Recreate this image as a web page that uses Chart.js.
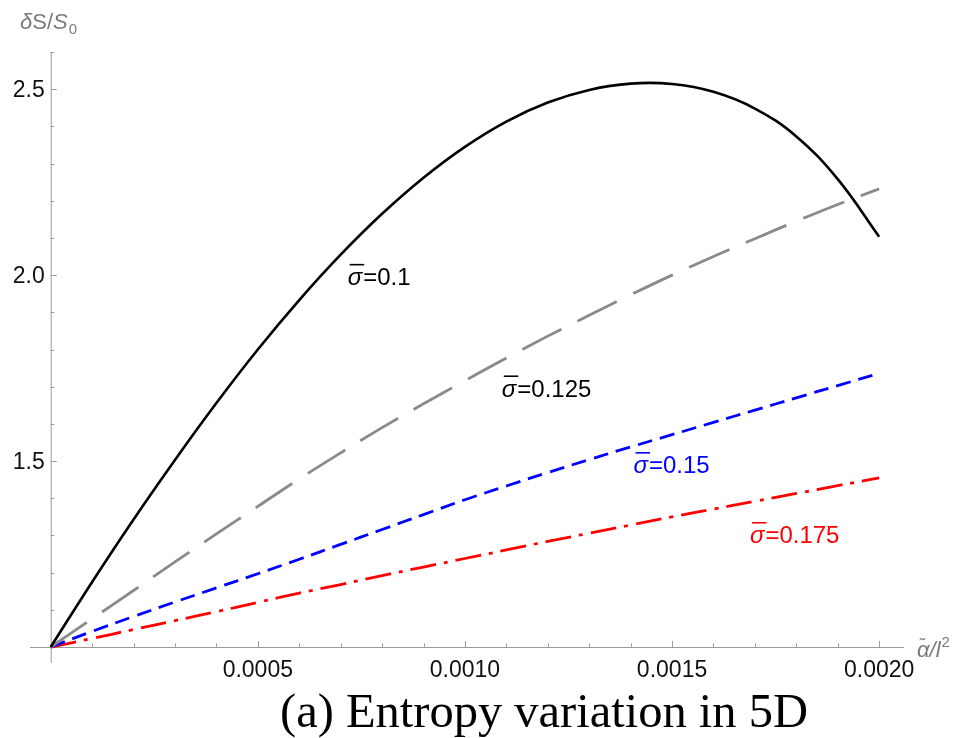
<!DOCTYPE html>
<html>
<head>
<meta charset="utf-8">
<script src="https://cdn.jsdelivr.net/npm/chart.js@4.4.1/dist/chart.umd.min.js"></script>
<style>
  html, body { margin: 0; padding: 0; background: #fff; }
  #wrap { width: 958px; height: 738px; }
</style>
</head>
<body>
<div id="wrap"><canvas id="myChart" width="958" height="738"></canvas></div>
<script>
// alpha/l^2 sample points
var alphaVals = [0, 0.0001, 0.0002, 0.0003, 0.0004, 0.0005, 0.0006, 0.0007, 0.0008, 0.0009, 0.0010,
                 0.0011, 0.0012, 0.0013, 0.0014, 0.0015, 0.0016, 0.0017, 0.0018, 0.0019, 0.0020];

// deltaS/S0 for each sigma
var sigma100 = [1.00, 1.175, 1.343, 1.503, 1.656, 1.800, 1.933, 2.055, 2.165, 2.262, 2.345,
                2.413, 2.464, 2.498, 2.515, 2.514, 2.493, 2.448, 2.373, 2.258, 2.103];
var sigma125 = [1.00, 1.076, 1.152, 1.229, 1.304, 1.378, 1.452, 1.522, 1.590, 1.654, 1.716,
                1.777, 1.836, 1.892, 1.947, 2.000, 2.050, 2.098, 2.145, 2.190, 2.232];
var sigma150 = [1.00, 1.042, 1.082, 1.121, 1.159, 1.197, 1.236, 1.276, 1.316, 1.356, 1.396,
                1.433, 1.469, 1.504, 1.538, 1.571, 1.604, 1.637, 1.670, 1.703, 1.736];
var sigma175 = [1.00, 1.023, 1.047, 1.071, 1.095, 1.120, 1.145, 1.168, 1.192, 1.215, 1.238,
                1.261, 1.284, 1.306, 1.328, 1.350, 1.371, 1.392, 1.413, 1.434, 1.455];

var sigmaNames = ['0.1', '0.125', '0.15', '0.175'];

var xTicks = [0.0005, 0.0010, 0.0015, 0.0020];
var xTickLabels = ['0.0005', '0.0010', '0.0015', '0.0020'];
var yTicks = [1.5, 2.0, 2.5];
var yTickLabels = ['1.5', '2.0', '2.5'];

function toPoints(ys) {
  return ys.map(function(y, i) { return {x: alphaVals[i], y: y}; });
}

// where the curve labels sit (data coords of the sigma glyph, baseline)
var labelSpots = [
  {x: 0.000717, y: 1.973, color: '#000000'},
  {x: 0.001089, y: 1.673, color: '#000000'},
  {x: 0.001407, y: 1.467, color: '#0000ff'},
  {x: 0.001688, y: 1.279, color: '#ff0000'}
];

var axisGray = '#9a9a9a';
var labelGray = '#7a7a7a';
var sans = '"Liberation Sans", Arial, Helvetica, sans-serif';

var axesPlugin = {
  id: 'mathAxes',
  beforeDatasetsDraw: function(chart) {
    var ctx = chart.ctx;
    var xs = chart.scales.x, ys = chart.scales.y;
    var x0 = xs.getPixelForValue(0), y0 = ys.getPixelForValue(1);
    var area = chart.chartArea;
    ctx.save();
    ctx.strokeStyle = axisGray;
    ctx.lineWidth = 1;
    ctx.beginPath();
    ctx.moveTo(area.left, y0 + 0.5); ctx.lineTo(area.right, y0 + 0.5);
    ctx.moveTo(x0 + 0.5, area.top); ctx.lineTo(x0 + 0.5, area.bottom);
    // x ticks, every 0.0001, longer at labelled ones
    for (var i = 1; i <= 20; i++) {
      var px = Math.round(xs.getPixelForValue(i * 0.0001)) + 0.5;
      var len = (i % 5 === 0) ? 6 : 3.5;
      ctx.moveTo(px, y0); ctx.lineTo(px, y0 - len);
    }
    for (var j = 1; j <= 16; j++) {
      var py = Math.round(ys.getPixelForValue(1 + j * 0.1)) + 0.5;
      var l2 = (j % 5 === 0) ? 6 : 3.5;
      ctx.moveTo(x0, py); ctx.lineTo(x0 + l2, py);
    }
    ctx.stroke();

    // tick labels
    ctx.fillStyle = '#111';
    ctx.font = '23px ' + sans;
    ctx.textAlign = 'center';
    ctx.textBaseline = 'alphabetic';
    xTicks.forEach(function(v, k) {
      ctx.fillText(xTickLabels[k], xs.getPixelForValue(v), y0 + 30);
    });
    ctx.textAlign = 'right';
    yTicks.forEach(function(v, k) {
      ctx.fillText(yTickLabels[k], x0 - 6, ys.getPixelForValue(v) + 8);
    });
    ctx.restore();
  },
  afterDraw: function(chart) {
    var ctx = chart.ctx;
    var xs = chart.scales.x, ys = chart.scales.y;
    ctx.save();
    ctx.textBaseline = 'alphabetic';
    ctx.textAlign = 'left';

    // curve labels: sigma with an overbar
    labelSpots.forEach(function(s, k) {
      var px = xs.getPixelForValue(s.x), py = ys.getPixelForValue(s.y);
      ctx.fillStyle = s.color;
      ctx.strokeStyle = s.color;
      ctx.font = 'italic 24px ' + sans;
      var w = ctx.measureText('\u03c3').width;
      ctx.fillText('\u03c3', px, py);
      ctx.lineWidth = 1.6;
      ctx.beginPath();
      ctx.moveTo(px + 2, py - 20.5); ctx.lineTo(px + w + 2, py - 20.5);
      ctx.stroke();
      ctx.font = '24px ' + sans;
      ctx.fillText('=' + sigmaNames[k], px + w + 1, py);
    });

    // axis labels
    ctx.fillStyle = labelGray;
    var x = 20, base = 29;
    ctx.font = 'italic 22px ' + sans;
    ctx.fillText('\u03b4', x, base); x += ctx.measureText('\u03b4').width;
    ctx.font = '22px ' + sans;
    ctx.fillText('S/', x, base); x += ctx.measureText('S/').width;
    ctx.font = 'italic 22px ' + sans;
    ctx.fillText('S', x, base); x += ctx.measureText('S').width;
    ctx.font = '15px ' + sans;
    ctx.fillText('0', x + 1, base + 5);

    x = 917; base = 657;
    ctx.font = 'italic 22px ' + sans;
    ctx.fillText('\u03b1', x, base);
    var aw = ctx.measureText('\u03b1').width;
    ctx.font = 'italic 16px ' + sans;
    ctx.fillText('\u02dc', x + 2, base - 7);
    x += aw;
    ctx.font = 'italic 22px ' + sans;
    ctx.fillText('/l', x, base); x += ctx.measureText('/l').width;
    ctx.font = '15px ' + sans;
    ctx.fillText('2', x + 1, base - 10);

    // caption
    ctx.fillStyle = '#000';
    ctx.font = '48.5px "Liberation Serif", "Times New Roman", serif';
    ctx.fillText('(a) Entropy variation in 5D', 280, 727);
    ctx.restore();
  }
};

var ctx = document.getElementById('myChart').getContext('2d');
var myChart = new Chart(ctx, {
  type: 'line',
  data: {
    datasets: [
      {label: '0.1', data: toPoints(sigma100), borderColor: '#000000', borderWidth: 2.6},
      {label: '0.125', data: toPoints(sigma125), borderColor: '#8a8a8a', borderWidth: 2.8, borderDash: [44, 18]},
      {label: '0.15', data: toPoints(sigma150), borderColor: '#0000ff', borderWidth: 2.8, borderDash: [15, 8]},
      {label: '0.175', data: toPoints(sigma175), borderColor: '#ff0000', borderWidth: 2.8, borderDash: [26, 8, 4, 8]}
    ]
  },
  options: {
    responsive: false,
    animation: false,
    events: [],
    layout: {padding: {left: 30, right: 54, top: 52, bottom: 75}},
    elements: {
      point: {radius: 0},
      line: {tension: 0.4, fill: false}
    },
    plugins: {legend: {display: false}, title: {display: false}, tooltip: {enabled: false}},
    scales: {
      x: {type: 'linear', min: -0.00005, max: 0.00206, display: false},
      y: {type: 'linear', min: 0.957, max: 2.6, display: false}
    }
  },
  plugins: [axesPlugin]
});
</script>
</body>
</html>
